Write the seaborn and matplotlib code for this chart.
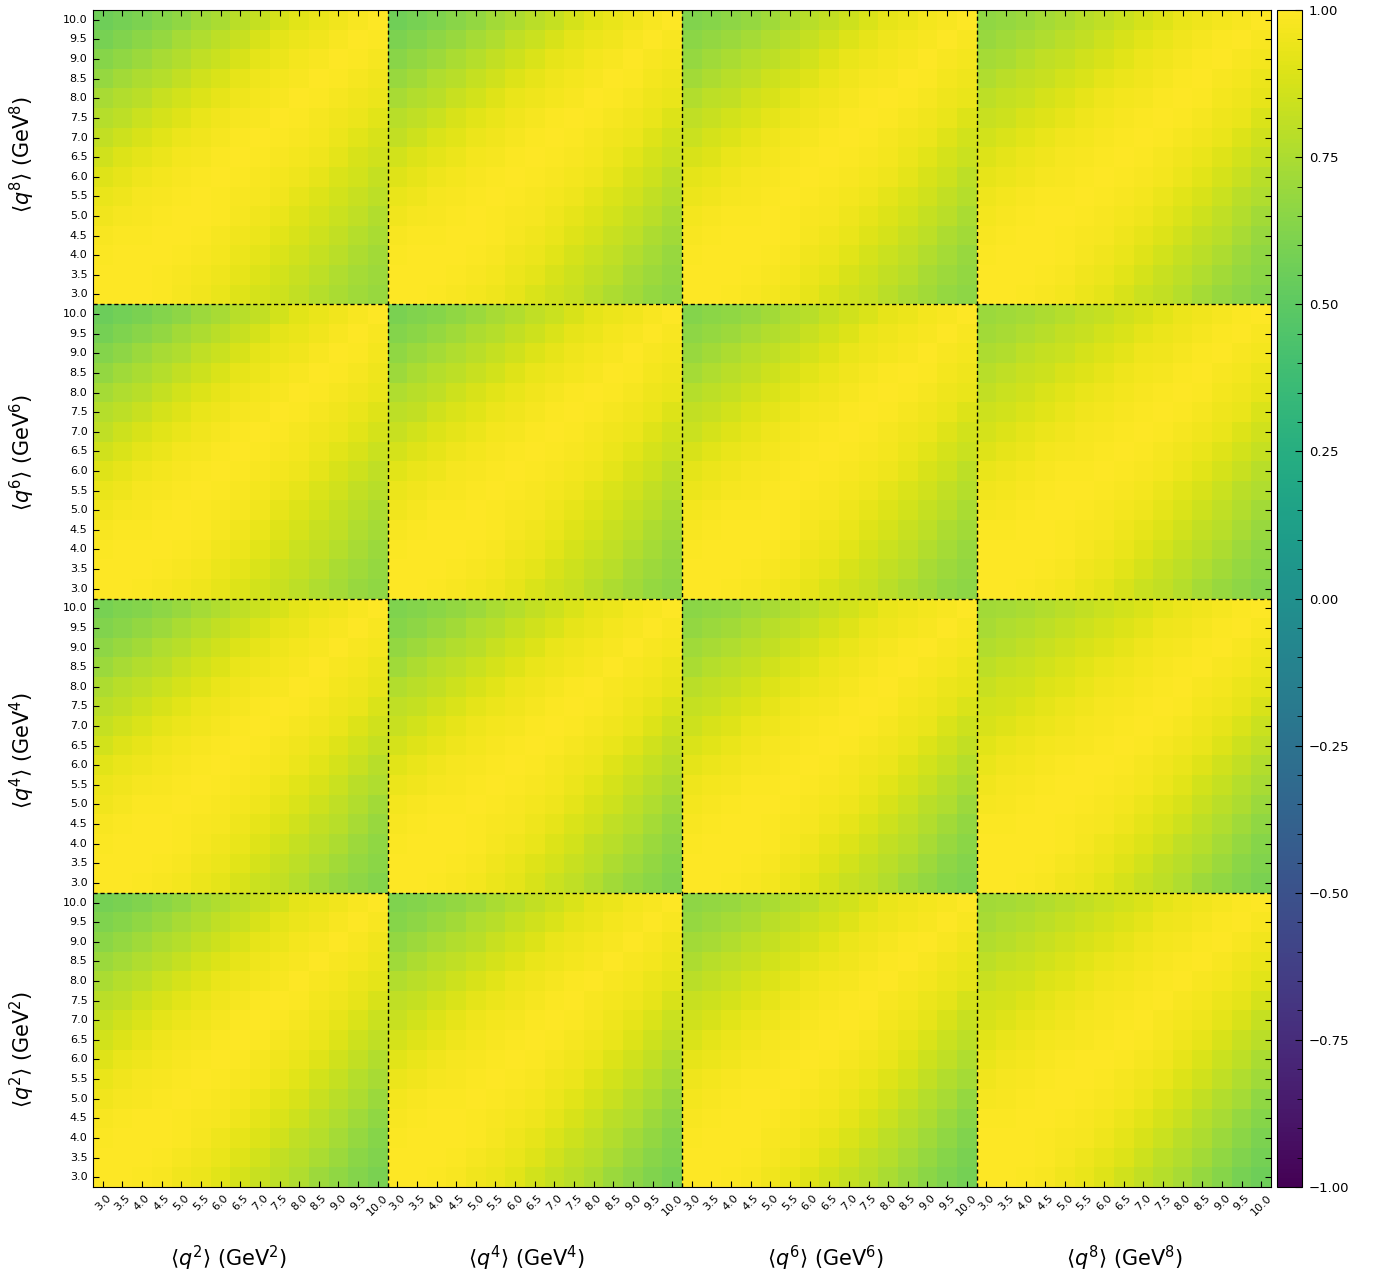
import numpy as np
import matplotlib
matplotlib.use("Agg")
import matplotlib.pyplot as plt
import seaborn as sns
from matplotlib.ticker import MultipleLocator

# ---------------- data ----------------
moments = ["q2", "q4", "q6", "q8"]
axis_labels = [r"$\langle q^2\rangle$ (GeV$^2$)", r"$\langle q^4\rangle$ (GeV$^4$)",
               r"$\langle q^6\rangle$ (GeV$^6$)", r"$\langle q^8\rangle$ (GeV$^8$)"]
q_values = [3.0, 3.5, 4.0, 4.5, 5.0, 5.5, 6.0, 6.5, 7.0, 7.5, 8.0, 8.5, 9.0, 9.5, 10.0]
tick_labels = [f"{v:.1f}" for v in q_values]

# correlation at the far corners of each block (rows: y-moment q2..q8, cols: x-moment q2..q8)
# top-left corner (x = 3, y = 10)
hi_corner = [
    [0.58, 0.61, 0.66, 0.72],   # y = q2
    [0.59, 0.61, 0.65, 0.72],   # y = q4
    [0.55, 0.60, 0.63, 0.70],   # y = q6
    [0.56, 0.57, 0.62, 0.67],   # y = q8
]
# bottom-right corner (x = 10, y = 3)
lo_corner = [
    [0.60, 0.59, 0.58, 0.56],
    [0.63, 0.62, 0.61, 0.60],
    [0.67, 0.66, 0.66, 0.63],
    [0.69, 0.66, 0.66, 0.63],
]
# fraction of the drop reached at each lag (0..14 steps):
# along the high-q edges (top row / right column) and the low-q edges (bottom row / left column)
hi_shape = [0.0, 0.05, 0.10, 0.15, 0.20, 0.30, 0.40, 0.475, 0.575, 0.65, 0.75, 0.825, 0.90, 0.95, 1.0]
lo_shape = [0.0, 0.0125, 0.025, 0.05, 0.10, 0.15, 0.225, 0.325, 0.425, 0.50, 0.60, 0.725, 0.825, 0.925, 1.0]

n = len(q_values)


def build_block(hc, lc):
    hs = np.array(hi_shape)
    ls = np.array(lo_shape)
    B = np.ones((n, n))  # B[j, i]: j = y index (low->high), i = x index
    for j in range(n):
        for i in range(n):
            k = abs(i - j)
            if k == 0:
                continue
            c = lc if i > j else hc          # lower triangle -> bottom-right corner
            lo = 1 - (1 - c) * ls[k]         # low-q edge value
            hi = 1 - (1 - c) * hs[k]         # high-q edge value
            t = 0.5 if k == n - 1 else min(i, j) / (n - 1 - k)
            B[j, i] = lo * (1 - t) + hi * t
    return B


nb = len(moments)
M = np.zeros((nb * n, nb * n))
for R in range(nb):
    r = nb - 1 - R
    for C in range(nb):
        B = build_block(hi_corner[R][C], lo_corner[R][C])
        M[r * n:(r + 1) * n, C * n:(C + 1) * n] = np.flipud(B)

xt = tick_labels * nb
yt = tick_labels[::-1] * nb

# ---------------- figure ----------------
W, H = 1380, 1282
fig = plt.figure(figsize=(W / 100, H / 100), dpi=100)
ax = fig.add_axes([93 / W, 1 - 1187 / H, (1271 - 93) / W, (1187 - 10) / H])
cax = fig.add_axes([1277 / W, 1 - 1187 / H, (1302 - 1277) / W, (1187 - 10) / H])

sns.heatmap(M, ax=ax, cbar_ax=cax, cmap="viridis", vmin=-1, vmax=1,
            xticklabels=xt, yticklabels=yt)

for s in ax.spines.values():
    s.set_visible(True)
    s.set_color("black")
    s.set_linewidth(0.8)

ax.tick_params(direction="in", top=True, right=True, length=4.5, width=0.8,
               labelsize=8, pad=4)
plt.setp(ax.get_xticklabels(), rotation=45, ha="center")
plt.setp(ax.get_yticklabels(), rotation=0)

for b in range(1, nb):
    ax.axhline(b * n, color="black", lw=1.0, ls=(0, (3, 2)))
    ax.axvline(b * n, color="black", lw=1.0, ls=(0, (3, 2)))

cb = ax.collections[0].colorbar
cb.outline.set_visible(True)
cb.outline.set_linewidth(0.8)
cb.outline.set_edgecolor("black")
cb.set_ticks(np.arange(-1, 1.01, 0.25))
cax.yaxis.set_minor_locator(MultipleLocator(0.05))
cax.tick_params(which="both", direction="in", labelsize=9.5, pad=5)
cax.tick_params(which="major", length=5, width=0.8)
cax.tick_params(which="minor", length=3.5, width=0.6)

x_centers = [228, 526, 825, 1124]
for xc, lab in zip(x_centers, axis_labels):
    fig.text(xc / W, 1 - 1258 / H, lab, ha="center", va="center", fontsize=15)
y_centers = [1050, 751, 453, 155]
for yc, lab in zip(y_centers, axis_labels):
    fig.text(22 / W, 1 - yc / H, lab, ha="center", va="center", rotation=90, fontsize=15)

fig.savefig("out.png", dpi=100)
